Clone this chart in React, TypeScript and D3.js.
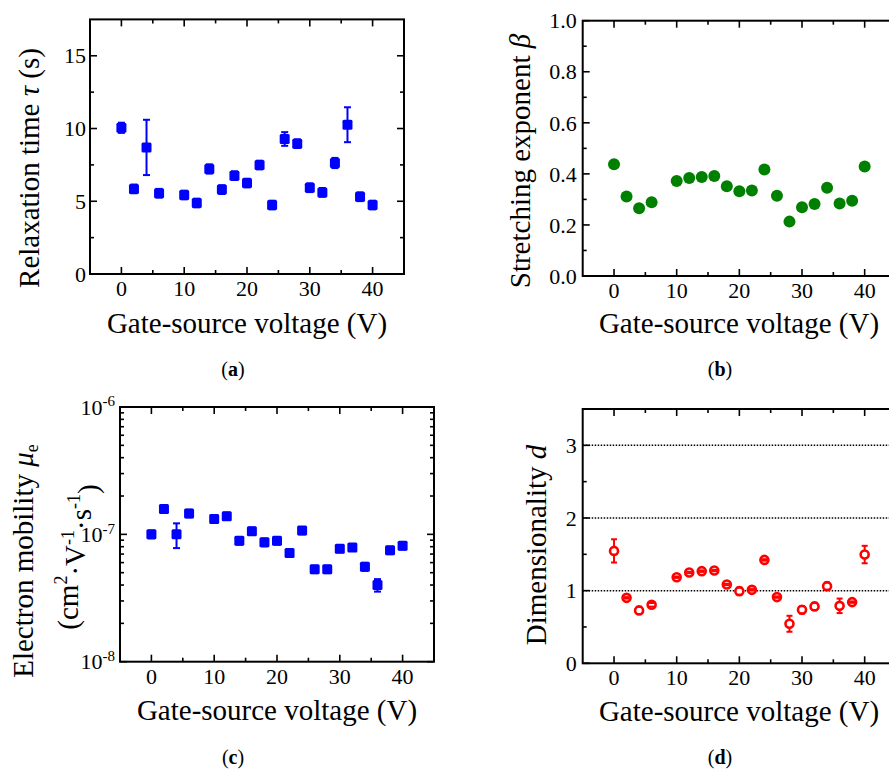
import React from "react";
import * as d3 from "d3";

const voltage = [0, 2, 4, 6, 10, 12, 14, 16, 18, 20, 22, 24, 26, 28, 30, 32, 34, 36, 38, 40];

// (a) relaxation time tau (s)
const tau = [10.05, 5.85, 8.7, 5.55, 5.43, 4.88, 7.22, 5.8, 6.76, 6.25, 7.49, 4.74, 9.28, 8.96, 5.93, 5.61, 7.63, 10.26, 5.31, 4.74];
const tauErr = [0.35, 0.3, 1.9, 0.3, 0.3, 0.3, 0.32, 0.3, 0.3, 0.3, 0.3, 0.3, 0.47, 0.3, 0.3, 0.3, 0.35, 1.2, 0.3, 0.3];

// (b) stretching exponent beta
const beta = [0.438, 0.311, 0.265, 0.289, 0.372, 0.384, 0.388, 0.392, 0.352, 0.332, 0.335, 0.417, 0.314, 0.213, 0.269, 0.282, 0.346, 0.284, 0.295, 0.429];

// (c) electron mobility, in units of 1e-7 cm2/(V s)
const mobility = [1.0, 1.58, 1.0, 1.46, 1.32, 1.39, 0.89, 1.06, 0.865, 0.89, 0.714, 1.07, 0.531, 0.531, 0.772, 0.79, 0.557, 0.4, 0.749, 0.815];
const mobilityErr = [0.07, 0.1, 0.22, 0.1, 0.09, 0.09, 0.06, 0.07, 0.06, 0.06, 0.05, 0.07, 0.035, 0.035, 0.05, 0.05, 0.04, 0.045, 0.05, 0.055];

// (d) dimensionality d
const dim = [1.547, 0.901, 0.728, 0.805, 1.185, 1.25, 1.268, 1.277, 1.085, 0.993, 1.011, 1.423, 0.911, 0.544, 0.736, 0.783, 1.062, 0.791, 0.842, 1.497];
const dimErr = [0.16, 0.01, 0.05, 0.025, 0.01, 0.01, 0.01, 0.01, 0.01, 0.05, 0.01, 0.01, 0.01, 0.11, 0.05, 0.05, 0.05, 0.1, 0.01, 0.12];
const dimGuides = [1, 2, 3];

const xMajor = [0, 10, 20, 30, 40];
const xMinor = [5, 15, 25, 35];

const FONT = "'Liberation Serif', 'Times New Roman', Times, serif";
const TICK_FS = 22;
const TITLE_FS = 29;

type Scale = (v: number) => number;

function Axes({ x, y, yMajor, yMinor, yText, labelGap = 5 }: {
  x: d3.ScaleLinear<number, number>;
  y: any;
  yMajor: number[];
  yMinor: number[];
  yText: (v: number) => React.ReactNode;
  labelGap?: number;
}) {
  const [x0, x1] = x.range();
  const [y0, y1] = y.range();
  const M = 7, m = 4;
  return (
    <g stroke="#000" strokeWidth={1.6}>
      {xMajor.map((v) => (
        <g key={"xM" + v}>
          <line x1={x(v)} x2={x(v)} y1={y0} y2={y0 - M} />
          <line x1={x(v)} x2={x(v)} y1={y1} y2={y1 + M} />
        </g>
      ))}
      {xMinor.map((v) => (
        <g key={"xm" + v}>
          <line x1={x(v)} x2={x(v)} y1={y0} y2={y0 - m} />
          <line x1={x(v)} x2={x(v)} y1={y1} y2={y1 + m} />
        </g>
      ))}
      {yMajor.map((v) => (
        <g key={"yM" + v}>
          <line x1={x0} x2={x0 + M} y1={y(v)} y2={y(v)} />
          <line x1={x1} x2={x1 - M} y1={y(v)} y2={y(v)} />
        </g>
      ))}
      {yMinor.map((v) => (
        <g key={"ym" + v}>
          <line x1={x0} x2={x0 + m} y1={y(v)} y2={y(v)} />
          <line x1={x1} x2={x1 - m} y1={y(v)} y2={y(v)} />
        </g>
      ))}
      <rect x={x0} y={y1} width={x1 - x0} height={y0 - y1} fill="none" strokeWidth={2} />
      <g stroke="none" fill="#000" fontSize={TICK_FS}>
        {xMajor.map((v) => (
          <text key={"xl" + v} x={x(v)} y={y0 + 22} textAnchor="middle">{v}</text>
        ))}
        {yMajor.map((v) => (
          <text key={"yl" + v} x={x0 - labelGap} y={y(v)} dy="0.35em" textAnchor="end">{yText(v)}</text>
        ))}
      </g>
    </g>
  );
}

function ErrorBars({ x, y, vals, errs, color, cap = 7, part = "all" }: {
  x: Scale; y: Scale; vals: number[]; errs: number[]; color: string; cap?: number; part?: string;
}) {
  return (
    <g stroke={color} strokeWidth={2}>
      {vals.map((v, i) => {
        const cx = x(voltage[i]);
        const top = y(v + errs[i]);
        const bot = y(v - errs[i]);
        return (
          <g key={i}>
            {part !== "caps" && <line x1={cx} x2={cx} y1={top} y2={bot} />}
            {part !== "line" && (
              <>
                <line x1={cx - cap / 2} x2={cx + cap / 2} y1={top} y2={top} />
                <line x1={cx - cap / 2} x2={cx + cap / 2} y1={bot} y2={bot} />
              </>
            )}
          </g>
        );
      })}
    </g>
  );
}

function PanelA() {
  const x = d3.scaleLinear().domain([-5, 45]).range([90, 404]);
  const y = d3.scaleLinear().domain([0, 17.5]).range([274, 19.4]);
  return (
    <g>
      <ErrorBars x={x} y={y} vals={tau} errs={tauErr} color="#0000ff" />
      {tau.map((v, i) => (
        <rect key={i} x={x(voltage[i]) - 5} y={y(v) - 5} width={10} height={10} rx={1.5} fill="#0000ff" />
      ))}
      <Axes x={x} y={y} yMajor={[0, 5, 10, 15]} yMinor={[2.5, 7.5, 12.5]} yText={(v) => v} labelGap={4} />
      <text x={247} y={274 + 59} textAnchor="middle" fontSize={TITLE_FS}>Gate-source voltage (V)</text>
      <text transform="translate(39,168) rotate(-90)" textAnchor="middle" fontSize={TITLE_FS}>
        Relaxation time <tspan fontStyle="italic">τ</tspan> (s)
      </text>
      <text x={233} y={376} textAnchor="middle" fontSize={20}>(<tspan fontWeight="bold">a</tspan>)</text>
    </g>
  );
}

function PanelB() {
  const x = d3.scaleLinear().domain([-5, 45]).range([582.7, 896]);
  const y = d3.scaleLinear().domain([0, 1]).range([276, 20.7]);
  return (
    <g>
      {beta.map((v, i) => (
        <circle key={i} cx={x(voltage[i])} cy={y(v)} r={6} fill="#008000" />
      ))}
      <Axes x={x} y={y} yMajor={[0, 0.2, 0.4, 0.6, 0.8, 1.0]} yMinor={[0.1, 0.3, 0.5, 0.7, 0.9]} yText={(v) => d3.format(".1f")(v)} labelGap={6} />
      <text x={739} y={276 + 57} textAnchor="middle" fontSize={TITLE_FS}>Gate-source voltage (V)</text>
      <text transform="translate(530,161) rotate(-90)" textAnchor="middle" fontSize={TITLE_FS}>
        Stretching exponent <tspan fontStyle="italic">β</tspan>
      </text>
      <text x={720} y={376} textAnchor="middle" fontSize={20}>(<tspan fontWeight="bold">b</tspan>)</text>
    </g>
  );
}

function PanelC() {
  const x = d3.scaleLinear().domain([-5, 45]).range([120, 434]);
  const y = d3.scaleLog().domain([1e-8, 1e-6]).range([661.7, 407]);
  const minors: number[] = [];
  [1e-8, 1e-7].forEach((d) => d3.range(2, 10).forEach((k) => minors.push(k * d)));
  const vals = mobility.map((v) => v * 1e-7);
  const errs = mobilityErr.map((v) => v * 1e-7);
  return (
    <g>
      <ErrorBars x={x} y={y} vals={vals} errs={errs} color="#0000ff" />
      {vals.map((v, i) => (
        <rect key={i} x={x(voltage[i]) - 5} y={y(v) - 5} width={10} height={10} rx={1.5} fill="#0000ff" />
      ))}
      <Axes x={x} y={y} yMajor={[1e-8, 1e-7, 1e-6]} yMinor={minors}
        yText={(v) => (
          <>
            10<tspan dy="-0.55em" fontSize={15}>{"-" + Math.round(-Math.log10(v))}</tspan>
          </>
        )} labelGap={5} />
      <text x={277} y={661.7 + 58} textAnchor="middle" fontSize={TITLE_FS}>Gate-source voltage (V)</text>
      <text transform="translate(33,561) rotate(-90)" textAnchor="middle" fontSize={TITLE_FS}>
        Electron mobility <tspan fontStyle="italic">μ</tspan><tspan dy="0.3em" fontSize={18}>e</tspan>
      </text>
      <text transform="translate(78,557) rotate(-90)" textAnchor="middle" fontSize={TITLE_FS}>
        (cm<tspan dy="-0.6em" fontSize={18}>2</tspan><tspan dy="0.6em">·V</tspan>
        <tspan dy="-0.6em" fontSize={18}>-1</tspan><tspan dy="0.6em">·s</tspan>
        <tspan dy="-0.6em" fontSize={18}>-1</tspan><tspan dy="0.6em">)</tspan>
      </text>
      <text x={233} y={764} textAnchor="middle" fontSize={20}>(<tspan fontWeight="bold">c</tspan>)</text>
    </g>
  );
}

function PanelD() {
  const x = d3.scaleLinear().domain([-5, 45]).range([582.7, 896]);
  const y = d3.scaleLinear().domain([0, 3.5]).range([663.3, 409]);
  const [x0, x1] = x.range();
  return (
    <g>
      {dimGuides.map((g) => (
        <line key={g} x1={x0} x2={x1} y1={y(g)} y2={y(g)} stroke="#000" strokeWidth={1.5} strokeDasharray="1.5 1.5" />
      ))}
      <ErrorBars x={x} y={y} vals={dim} errs={dimErr} color="#ff0000" part="line" cap={6} />
      {dim.map((v, i) => (
        <circle key={i} cx={x(voltage[i])} cy={y(v)} r={4} fill="#fff" stroke="#ff0000" strokeWidth={2.6} />
      ))}
      <ErrorBars x={x} y={y} vals={dim} errs={dimErr} color="#ff0000" part="caps" cap={6} />
      <Axes x={x} y={y} yMajor={[0, 1, 2, 3]} yMinor={[0.5, 1.5, 2.5, 3.5]} yText={(v) => v} labelGap={6} />
      <text x={739} y={663.3 + 58} textAnchor="middle" fontSize={TITLE_FS}>Gate-source voltage (V)</text>
      <text transform="translate(546,545) rotate(-90)" textAnchor="middle" fontSize={TITLE_FS}>
        Dimensionality <tspan fontStyle="italic">d</tspan>
      </text>
      <text x={720} y={764} textAnchor="middle" fontSize={20}>(<tspan fontWeight="bold">d</tspan>)</text>
    </g>
  );
}

export default function App() {
  return (
    <svg width={889} height={769} style={{ position: "absolute", left: 0, top: 0, background: "#fff", fontFamily: FONT }}>
      <style>{`text { font-family: ${FONT}; }`}</style>
      <PanelA />
      <PanelB />
      <PanelC />
      <PanelD />
    </svg>
  );
}
